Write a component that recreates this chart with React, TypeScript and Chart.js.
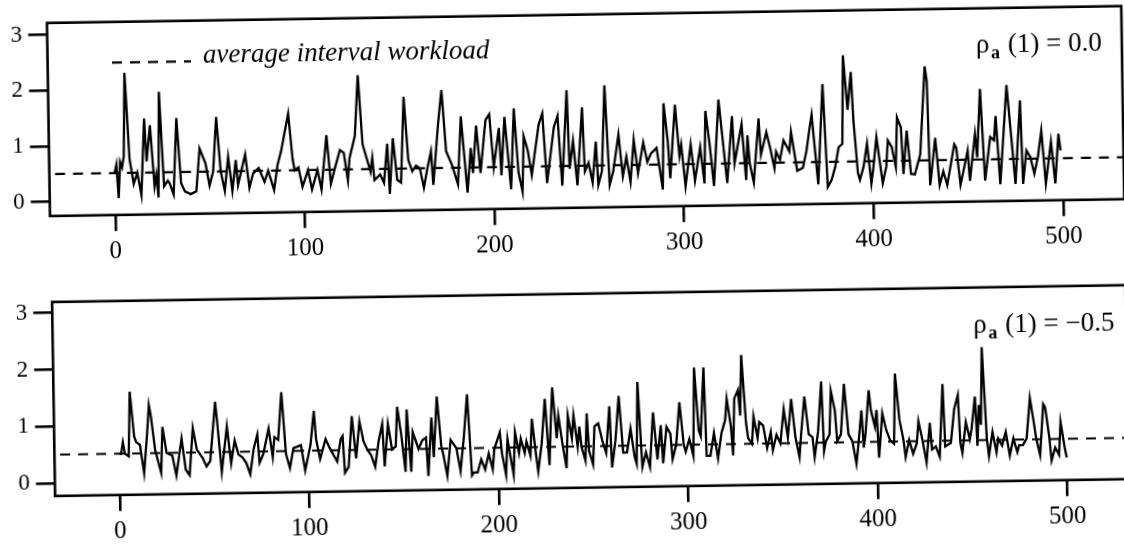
import React, { useEffect, useRef } from "react";
import { Chart, registerables } from "chart.js";

Chart.register(...registerables);

// ---- data (interval index, workload) ----
const topSamples: [number, number][] = [
  [0,0.5],[1,0.65],[2,0.05],[3,0.7],[4,0.6],[5,0.8],[6,2.3],[8,0.75],[10,0.3],[12,0.5],[14,0.1],[16,1.47],[17,0.7],[19,1.35],[21,0.25],[22,0.45],[23,0.05],[24,1.95],[26,0.25],[28,0.35],[29,0.3],[31,0.1],[33,1.47],[35,0.3],[37,0.15],[40,0.1],[43,0.15],[45,0.92],[48,0.65],[50,0.25],[52,0.5],[54,1.48],[56,0.5],[58,0.15],[60,0.76],[62,0.15],[64,0.7],[65,0.25],[69,0.8],[71,0.2],[73,0.45],[76,0.55],[79,0.3],[81,0.5],[84,0.15],[86,0.6],[88,0.85],[92,1.52],[94,0.7],[95,0.5],[97,0.55],[99,0.2],[102,0.5],[104,0.15],[107,0.5],[109,0.15],[112,1.12],[114,0.25],[116,0.5],[119,0.85],
  [121,0.8],[123,0.3],[124,0.7],[127,1.1],[129,2.19],[131,0.95],[133,0.7],[135,0.45],[136,0.7],[137,0.3],[140,0.4],[142,0.25],[144,0.95],[145,0.05],[147,1.05],[149,0.3],[151,0.25],[153,1.79],[155,0.65],[157,0.45],[159,0.55],[161,0.5],[163,0.15],[165,0.5],[167,0.8],[168,0.2],[171,1.3],[173,1.9],[175,0.8],[178,0.55],[181,0.2],[183,1.42],[185,0.5],[186,0.05],[188,0.85],[189,0.4],[191,1.25],[193,0.4],[196,1.35],[198,1.45],[200,0.5],[203,1.2],[204,0.35],[206,1.4],[209,0.1],[211,1.55],[213,0.4],[215,0.05],[216,1.05],[218,0.8],[220,0.35],[224,1.25],[226,1.45],[228,0.2],[232,1.2],[234,1.4],[236,0.15],[239,1.86],[240,0.45],[242,0.95],[244,0.15],[247,1.55],[248,0.4],
  [250,0.55],[252,0.2],[254,0.93],[255,0.15],[257,0.4],[259,1.94],[261,0.15],[263,0.4],[266,1.05],[268,0.3],[270,0.65],[272,0.2],[274,0.95],[276,0.35],[279,0.9],[281,0.55],[283,0.7],[286,0.8],[288,0.3],[289,0.05],[290,1.6],[292,0.9],[293,0.25],[296,1.57],[298,0.65],[299,0.85],[301,0.1],[304,0.85],[306,0.2],[309,0.8],[311,0.15],[312,1.45],[314,0.85],[316,0.1],[319,1.65],[321,0.9],[323,0.15],[326,1.35],[327,0.5],[331,1.2],[333,0.2],[334,1.0],[335,0.5],[337,0.15],[340,1.3],[341,0.65],[344,1.05],[346,0.75],[348,0.4],[349,0.7],[351,0.55],[353,0.9],[356,0.7],[357,1.05],[360,0.35],[363,0.4],[365,0.7],[367,1.15],[368,1.35],[371,0.1],[374,1.9],
  [376,0.05],[378,0.17],[380,0.4],[382,0.76],[384,0.82],[385,2.41],[387,1.43],[389,2.11],[390,1.25],[392,0.29],[393,0.17],[395,0.4],[397,0.82],[399,0.1],[400,0.34],[402,0.93],[405,0.1],[407,0.4],[408,0.87],[410,0.75],[412,0.39],[413,1.28],[415,1.1],[416,0.26],[418,1.04],[420,0.26],[422,0.25],[425,0.61],[428,2.19],[429,1.92],[430,0.05],[433,0.9],[435,0.05],[437,0.3],[439,0.05],[443,0.78],[444,0.72],[446,0.05],[450,0.66],[451,0.12],[454,0.96],[455,0.54],[457,1.77],[459,0.12],[462,0.9],[464,0.84],[465,1.28],[467,0.05],[471,1.83],[473,0.95],[475,0.05],[478,1.55],[479,0.05],[481,0.65],[483,0.53],[485,0.23],[487,0.53],[489,1.0],[491,0.05],[494,0.8],[496,0.05],[498,0.94],[499,0.64]
];

const bottomSamples: [number, number][] = [
  [0,0.5],[1,0.5],[2,0.7],[3,0.5],[5,0.45],[6,1.59],[8,0.8],[9,0.7],[11,0.65],[13,0.15],[15,0.9],[16,1.35],[17,1.15],[19,0.55],[22,0.15],[23,0.96],[25,0.5],[28,0.45],[30,0.1],[33,0.75],[35,0.2],[37,0.1],[39,0.93],[41,0.55],[44,0.4],[46,0.25],[48,0.35],[51,1.39],[52,1.0],[54,0.15],[57,0.95],[59,0.3],[61,0.7],[63,0.45],[65,0.4],[67,0.3],[69,0.1],[71,0.55],[73,0.8],[74,0.3],[76,0.45],[79,0.9],[81,0.4],[82,0.75],[84,0.7],[86,1.54],[88,0.45],[90,0.2],[92,0.55],[96,0.6],[98,0.15],[101,0.6],[103,1.2],[104,0.7],[106,0.35],[109,0.7],[111,0.55],[115,0.3],[117,0.7],[118,0.75],[119,0.1],
  [121,0.2],[123,1.1],[125,0.35],[127,1.0],[129,0.65],[131,0.5],[133,0.4],[135,0.2],[137,0.65],[139,0.95],[140,0.2],[142,0.95],[144,0.5],[146,0.55],[147,1.25],[149,0.75],[151,0.1],[152,1.2],[154,0.1],[155,0.8],[158,0.5],[160,0.65],[162,0.7],[163,0.02],[165,1.05],[166,0.35],[168,1.42],[170,0.55],[171,0.4],[173,0.02],[175,0.65],[178,0.5],[180,0.1],[182,0.7],[184,1.45],[186,0.02],[187,0.07],[189,0.07],[191,0.3],[193,0.12],[195,0.4],[197,0.12],[198,0.48],[201,0.77],[202,0.4],[204,0.02],[205,0.65],[208,0.02],[209,0.77],[211,0.4],[212,0.65],[214,0.4],[215,0.6],[217,0.35],[218,1.0],[220,0.35],[221,0.07],[223,0.55],[225,1.35],[227,0.18],[228,0.95],[229,1.55],[231,0.65],[232,1.05],[234,0.55],[236,0.12],[237,1.05],[239,0.65],[240,1.05],[242,0.5],[243,0.85],[244,0.5],[246,0.25],[247,1.08],[248,0.42],
  [250,0.18],[251,0.85],[253,0.9],[255,0.6],[257,0.38],[259,1.2],[260,0.12],[262,0.6],[264,1.38],[266,0.38],[268,0.38],[270,0.8],[272,0.3],[273,0.18],[274,1.62],[276,0.12],[278,0.38],[280,0.12],[282,1.08],[284,0.25],[286,0.85],[287,0.18],[289,0.82],[291,0.7],[292,0.25],[294,0.5],[296,1.25],[298,0.5],[299,0.38],[301,0.6],[303,0.3],[304,1.86],[306,0.75],[307,0.65],[309,1.86],[310,0.3],[312,0.3],[314,0.7],[316,0.25],[318,0.7],[320,0.92],[321,1.3],[323,0.82],[324,0.3],[325,1.3],[327,1.45],[328,1.0],[329,2.07],[331,0.88],[332,0.6],[334,0.5],[335,0.98],[337,0.6],[338,0.88],[340,0.82],[342,0.42],[344,0.7],[345,0.38],[347,0.65],[349,0.5],[351,1.1],[353,0.6],[355,1.28],[357,0.6],[359,0.25],[360,0.65],[362,1.32],[364,0.65],[366,0.6],[367,0.25],[369,0.7],[371,1.58],[372,0.35],
  [373,0.52],[375,0.64],[376,1.41],[378,1.06],[379,0.52],[381,0.64],[383,1.53],[385,0.64],[387,0.52],[389,0.12],[390,0.4],[392,1.06],[393,0.4],[394,0.64],[396,1.41],[397,1.06],[399,0.77],[400,1.06],[401,0.22],[403,1.0],[405,0.7],[407,0.52],[409,0.46],[410,1.7],[412,0.88],[414,0.52],[415,0.22],[417,0.52],[419,0.28],[421,0.46],[422,0.85],[424,0.52],[426,0.12],[428,0.82],[429,0.35],[431,0.4],[433,0.22],[435,1.5],[436,0.4],[439,0.46],[441,1.06],[443,1.3],[444,0.46],[445,0.28],[447,0.82],[449,0.52],[450,0.7],[452,1.27],[453,0.4],[454,1.12],[455,0.77],[456,2.14],[458,0.52],[459,0.22],[461,0.64],[463,0.28],[464,0.52],[466,0.4],[468,0.64],[470,0.22],[472,0.52],[474,0.28],[475,0.4],[477,0.4],[479,0.52],[481,1.23],[483,0.77],[484,0.52],[486,0.22],[488,1.12],[489,1.06],[491,0.52],[492,0.12],[494,0.35],[496,0.22],[497,0.8],[499,0.35],[500,0.17]
];

const averageWorkload = 0.5;
const xTickValues = [0, 100, 200, 300, 400, 500];
const yTickValues = [0, 1, 2, 3];
const legendLabel = "average interval workload";
const topRhoValue = "0.0";
const bottomRhoValue = "\u22120.5";

const SERIF = "'Liberation Serif', 'DejaVu Serif', serif";

type PanelCfg = {
  samples: [number, number][];
  width: number;
  height: number;
  padTop: number;
  padRight: number;
  yAxisW: number;
  xAxisH: number;
  xMin: number;
  xMax: number;
  yMin: number;
  yMax: number;
  rhoX: number;
  rhoBase: number;
  rhoValue: string;
  legend: boolean;
};

const topCfg: PanelCfg = {
  samples: topSamples,
  width: 1130,
  height: 272,
  padTop: 23.7,
  padRight: 9,
  yAxisW: 46.6,
  xAxisH: 55.2,
  xMin: -34.4,
  xMax: 532.2,
  yMin: -0.253,
  yMax: 3.216,
  rhoX: 975,
  rhoBase: 68,
  rhoValue: topRhoValue,
  legend: true,
};

const bottomCfg: PanelCfg = {
  samples: bottomSamples,
  width: 1130,
  height: 300,
  padTop: 30.8,
  padRight: 9,
  yAxisW: 47.3,
  xAxisH: 75.2,
  xMin: -34.2,
  xMax: 532.5,
  yMin: -0.229,
  yMax: 3.194,
  rhoX: 968,
  rhoBase: 76,
  rhoValue: bottomRhoValue,
  legend: false,
};

function makeChart(canvas: HTMLCanvasElement, cfg: PanelCfg) {
  const decor = {
    id: "decor",
    afterDraw(chart: any) {
      const ctx = chart.ctx as CanvasRenderingContext2D;
      const a = chart.chartArea;
      ctx.save();
      ctx.strokeStyle = "#000";
      ctx.lineWidth = 2.6;
      ctx.strokeRect(a.left, a.top, a.right - a.left, a.bottom - a.top);
      ctx.fillStyle = "#000";
      // rho label
      ctx.textBaseline = "alphabetic";
      ctx.textAlign = "left";
      ctx.font = `27px ${SERIF}`;
      ctx.fillText("\u03C1", cfg.rhoX, cfg.rhoBase);
      ctx.font = `bold 18px ${SERIF}`;
      ctx.fillText("a", cfg.rhoX + 15, cfg.rhoBase + 6);
      ctx.font = `27px ${SERIF}`;
      ctx.fillText(`(1) = ${cfg.rhoValue}`, cfg.rhoX + 32, cfg.rhoBase);
      if (cfg.legend) {
        ctx.setLineDash([10, 8]);
        ctx.lineWidth = 2.2;
        ctx.beginPath();
        ctx.moveTo(111, 64.4);
        ctx.lineTo(190, 64.4);
        ctx.stroke();
        ctx.setLineDash([]);
        ctx.font = `italic 27px ${SERIF}`;
        ctx.fillText(legendLabel, 202, 66);
      }
      ctx.restore();
    },
  };

  return new Chart(canvas, {
    type: "line",
    data: {
      datasets: [
        {
          data: cfg.samples.map(([x, y]) => ({ x, y })),
          borderColor: "#000",
          borderWidth: 2.3,
          pointRadius: 0,
          tension: 0,
          order: 0,
        },
        {
          data: [
            { x: cfg.xMin + 3, y: averageWorkload },
            { x: cfg.xMax, y: averageWorkload },
          ],
          borderColor: "#000",
          borderWidth: 2.2,
          borderDash: [10, 8],
          pointRadius: 0,
          order: 1,
        },
      ],
    },
    options: {
      responsive: false,
      animation: false,
      layout: { padding: { top: cfg.padTop, right: cfg.padRight, left: 0, bottom: 0 } },
      plugins: { legend: { display: false }, tooltip: { enabled: false } },
      scales: {
        x: {
          type: "linear",
          min: cfg.xMin,
          max: cfg.xMax,
          afterBuildTicks: (s: any) => {
            s.ticks = xTickValues.map((v) => ({ value: v }));
          },
          afterFit: (s: any) => {
            s.height = cfg.xAxisH;
          },
          border: { display: false },
          grid: { drawOnChartArea: false, drawTicks: true, tickLength: 16, color: "#000", lineWidth: 2.6 },
          ticks: { color: "#000", font: { family: SERIF, size: 25 }, padding: 6, maxRotation: 0, autoSkip: false },
        },
        y: {
          type: "linear",
          min: cfg.yMin,
          max: cfg.yMax,
          afterBuildTicks: (s: any) => {
            s.ticks = yTickValues.map((v) => ({ value: v }));
          },
          afterFit: (s: any) => {
            s.width = cfg.yAxisW;
          },
          border: { display: false },
          grid: { drawOnChartArea: false, drawTicks: true, tickLength: 19, color: "#000", lineWidth: 2.6 },
          ticks: { color: "#000", font: { family: SERIF, size: 23 }, padding: 6 },
        },
      },
    },
    plugins: [decor],
  } as any);
}

function Panel({ cfg, top }: { cfg: PanelCfg; top: number }) {
  const ref = useRef<HTMLCanvasElement>(null);
  useEffect(() => {
    if (!ref.current) return;
    const chart = makeChart(ref.current, cfg);
    return () => chart.destroy();
  }, [cfg]);
  return (
    <canvas
      ref={ref}
      width={cfg.width}
      height={cfg.height}
      style={{ position: "absolute", left: 0, top, width: cfg.width, height: cfg.height }}
    />
  );
}

export default function App() {
  return (
    <div style={{ position: "fixed", left: 0, top: 0, width: 1124, height: 546, overflow: "hidden", background: "#fff" }}>
      <div
        style={{
          position: "absolute",
          left: 0,
          top: 0,
          width: 1130,
          height: 572,
          transform: "rotate(-0.9deg)",
          transformOrigin: "0 0",
        }}
      >
        <Panel cfg={topCfg} top={0} />
        <Panel cfg={bottomCfg} top={272} />
      </div>
    </div>
  );
}
